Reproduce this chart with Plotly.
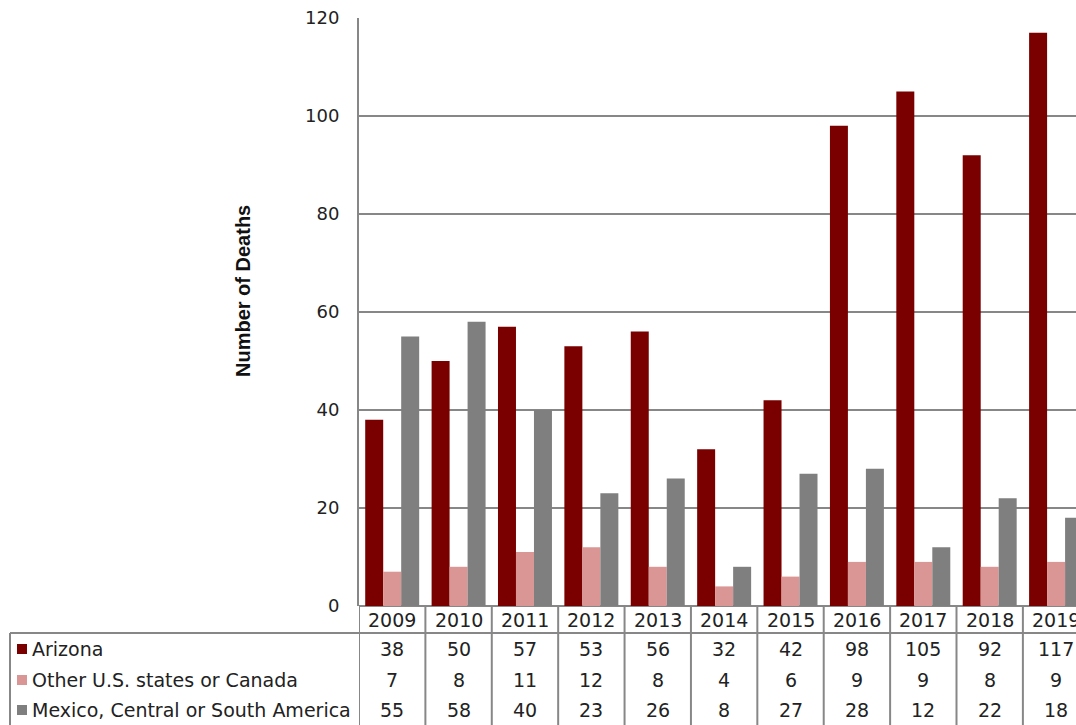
import plotly.graph_objects as go

# ---- data ----
years = ["2009", "2010", "2011", "2012", "2013", "2014", "2015", "2016", "2017", "2018", "2019"]
series_names = ["Arizona", "Other U.S. states or Canada", "Mexico, Central or South America"]
arizona = [38, 50, 57, 53, 56, 32, 42, 98, 105, 92, 117]
other_us_canada = [7, 8, 11, 12, 8, 4, 6, 9, 9, 8, 9]
latin_america = [55, 58, 40, 23, 26, 8, 27, 28, 12, 22, 18]
y_ticks = [0, 20, 40, 60, 80, 100, 120]

series_values = [arizona, other_us_canada, latin_america]
colors = ["#7a0000", "#d99694", "#7f7f7f"]

# ---- page geometry (pixels) ----
W, H = 1076, 725
L, R, T, B = 359, 0, 18, 119
plot_w = W - L - R
plot_h = H - T - B
axis_bottom = H - B


def px_x(p):
    return (p - L) / plot_w


def px_y(p):
    return (axis_bottom - p) / plot_h


GRID = "#878787"
TEXT = "#222222"
TABLE_FONT = dict(family="DejaVu Sans", size=19, color=TEXT)

fig = go.Figure()
for name, vals, col in zip(series_names, series_values, colors):
    fig.add_trace(go.Bar(
        x=years, y=vals, name=name, marker=dict(color=col, line=dict(width=0)),
        showlegend=False,
    ))

shapes = []
annotations = []

# year header row (category index positions on the x axis)
for i, yr in enumerate(years):
    annotations.append(dict(x=i, y=px_y(620), xref="x", yref="paper", text=yr,
                            showarrow=False, xanchor="center", yanchor="middle",
                            font=TABLE_FONT))

# data rows
row_centers = [649, 680, 710]
for name, vals, col, yc in zip(series_names, series_values, colors, row_centers):
    for i, v in enumerate(vals):
        annotations.append(dict(x=i, y=px_y(yc), xref="x", yref="paper", text=str(v),
                                showarrow=False, xanchor="center", yanchor="middle",
                                font=TABLE_FONT))
    # legend key + label
    shapes.append(dict(type="rect", xref="paper", yref="paper",
                       x0=px_x(17), x1=px_x(27), y0=px_y(yc + 5), y1=px_y(yc - 5),
                       fillcolor=col, line=dict(width=0)))
    annotations.append(dict(x=px_x(30), y=px_y(yc), xref="paper", yref="paper",
                            text=name, showarrow=False, xanchor="left", yanchor="middle",
                            font=TABLE_FONT))

# table grid lines
for k in range(len(years) + 1):
    shapes.append(dict(type="line", xref="x", yref="paper",
                       x0=k - 0.5, x1=k - 0.5, y0=px_y(axis_bottom), y1=px_y(H + 2),
                       line=dict(color=GRID, width=2)))
shapes.append(dict(type="line", xref="paper", yref="paper",
                   x0=px_x(10), x1=px_x(W + 5), y0=px_y(633), y1=px_y(633),
                   line=dict(color=GRID, width=2)))
shapes.append(dict(type="line", xref="paper", yref="paper",
                   x0=px_x(10), x1=px_x(10), y0=px_y(633), y1=px_y(H + 2),
                   line=dict(color=GRID, width=2)))

# axis title
annotations.append(dict(x=px_x(243), y=px_y(291), xref="paper", yref="paper",
                        text="<b>Number of Deaths</b>", textangle=-90, showarrow=False,
                        xanchor="center", yanchor="middle",
                        font=dict(family="Liberation Sans", size=20, color="#111111")))

fig.update_layout(
    width=W, height=H,
    margin=dict(l=L, r=R, t=T, b=B, pad=0),
    paper_bgcolor="white", plot_bgcolor="white",
    barmode="group", bargap=0.187, bargroupgap=0,
    shapes=shapes, annotations=annotations,
    xaxis=dict(type="category", range=[-0.5, 10.3], showticklabels=False,
               showgrid=False, zeroline=False, showline=False, ticks=""),
    yaxis=dict(range=[0, 120], tickvals=y_ticks, showgrid=True, gridcolor=GRID,
               gridwidth=2, zeroline=True, zerolinecolor=GRID, zerolinewidth=2,
               showline=True, linecolor=GRID, linewidth=2, ticks="",
               ticklabelstandoff=14,
               tickfont=dict(family="DejaVu Sans", size=18, color=TEXT)),
)

fig.write_html("out.html")
